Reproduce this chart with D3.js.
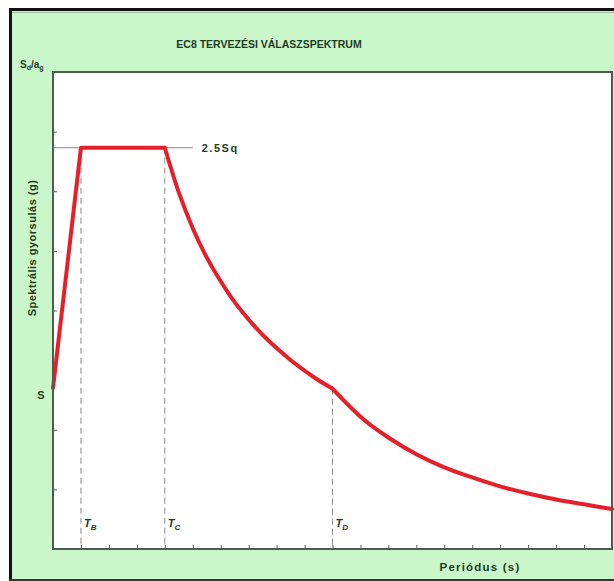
<!DOCTYPE html>
<html><head><meta charset="utf-8">
<script src="https://cdn.jsdelivr.net/npm/d3@7"></script>
<style>
html,body{margin:0;padding:0;background:#fff;}
svg{display:block;}
text{font-family:"Liberation Sans",Arial,sans-serif;font-weight:bold;fill:#1f3b1f;}
</style></head>
<body>
<svg id="chart" width="614" height="581"></svg>
<script>
// Data (x: period in tick units, y: Sd/ag in tick units)
const periods = [0, 1, 4, 4.5, 5, 5.5, 6, 6.5, 7, 7.5, 8, 8.5, 9, 9.5, 10, 11, 12, 13, 14, 15, 16, 17, 18, 19, 20];
const spectrum = [2.7, 6.73, 6.73, 5.98, 5.38, 4.89, 4.49, 4.14, 3.85, 3.59, 3.37, 3.17, 2.99, 2.83, 2.69, 2.22, 1.87, 1.59, 1.37, 1.2, 1.05, 0.93, 0.83, 0.75, 0.67];
const cornerNames = ["B", "C", "D"];
const cornerPeriods = [1, 4, 10];
const xTicks = d3.range(0, 21, 1);
const yTicks = d3.range(0, 9, 1);
const plateauLabel = "2.5Sq";
const sLabel = "S";
const plateauGuideEnd = 5;

const svg = d3.select("#chart");
const L = 53, R = 612, T = 72, B = 549;

// backgrounds
svg.append("rect").attr("x", 10).attr("y", 9).attr("width", 610).attr("height", 571)
  .attr("fill", "#c9f7c9");
svg.append("line").attr("x1", 9).attr("x2", 614).attr("y1", 9.5).attr("y2", 9.5)
  .attr("stroke", "#111").attr("stroke-width", 3);
svg.append("line").attr("x1", 10.5).attr("x2", 10.5).attr("y1", 8).attr("y2", 581)
  .attr("stroke", "#111").attr("stroke-width", 3);
svg.append("line").attr("x1", 9).attr("x2", 614).attr("y1", 580).attr("y2", 580)
  .attr("stroke", "#333").attr("stroke-width", 2);
svg.append("line").attr("x1", 12).attr("x2", 614).attr("y1", 12.5).attr("y2", 12.5)
  .attr("stroke", "#9fbf9f").attr("stroke-width", 1);

svg.append("rect").attr("x", L).attr("y", T).attr("width", R - L).attr("height", B - T)
  .attr("fill", "#fff");

const x = d3.scaleLinear().domain([0, 20]).range([L, R]);
const y = d3.scaleLinear().domain([0, 8]).range([B, T]);

// axes with inward ticks
const xAxis = d3.axisBottom(x).tickValues(xTicks).tickSizeInner(-4).tickSizeOuter(0).tickFormat("");
const yAxis = d3.axisLeft(y).tickValues(yTicks).tickSizeInner(-4).tickSizeOuter(0).tickFormat("");
const gx = svg.append("g").attr("transform", `translate(0,${B})`).call(xAxis);
const gy = svg.append("g").attr("transform", `translate(${L},0)`).call(yAxis);
[gx, gy].forEach(g => {
  g.selectAll("line").attr("stroke", "#556655");
  g.select(".domain").remove();
});

// guides
const plateau = spectrum[1];
svg.append("line").attr("x1", x(0)).attr("x2", x(plateauGuideEnd))
  .attr("y1", y(plateau)).attr("y2", y(plateau))
  .attr("stroke", "#8a8a8a").attr("stroke-width", 1);
cornerPeriods.forEach((p, i) => {
  const idx = periods.indexOf(p);
  svg.append("line").attr("x1", x(p)).attr("x2", x(p))
    .attr("y1", y(spectrum[idx])).attr("y2", B)
    .attr("stroke", "#8a8a8a").attr("stroke-width", 1).attr("stroke-dasharray", "6,4");
  const t = svg.append("text").attr("x", x(p) + 3).attr("y", B - 22)
    .attr("font-size", 11).attr("font-style", "italic").attr("font-weight", "normal")
    .attr("fill", "#222");
  t.append("tspan").text("T");
  t.append("tspan").attr("dy", 3).attr("font-size", 8).text(cornerNames[i]);
});

// spectrum line: linear rise + plateau, then two smooth descending branches
const pts = periods.map((p, i) => [p, spectrum[i]]);
const iC = periods.indexOf(cornerPeriods[1]);
const iD = periods.indexOf(cornerPeriods[2]);
const linePart = d3.line().x(d => x(d[0])).y(d => y(d[1]));
const curvePart = d3.line().x(d => x(d[0])).y(d => y(d[1])).curve(d3.curveMonotoneX);
const redStyle = p => p.attr("fill", "none").attr("stroke", "#e6202a").attr("stroke-width", 4)
  .attr("stroke-linejoin", "round").attr("stroke-linecap", "round");
svg.append("path").attr("d", linePart(pts.slice(0, iC + 1))).call(redStyle);
svg.append("path").attr("d", curvePart(pts.slice(iC, iD + 1))).call(redStyle);
svg.append("path").attr("d", curvePart(pts.slice(iD))).call(redStyle);

// plot border
svg.append("rect").attr("x", L).attr("y", T).attr("width", R - L).attr("height", B - T)
  .attr("fill", "none").attr("stroke", "#4d5e4d").attr("stroke-width", 2);

// texts
svg.append("text").attr("x", 269).attr("y", 48).attr("text-anchor", "middle")
  .attr("font-size", 10.5).text("EC8 TERVEZÉSI VÁLASZSPEKTRUM");
const yl = svg.append("text").attr("x", 20).attr("y", 68).attr("font-size", 10);
yl.append("tspan").text("S");
yl.append("tspan").attr("dy", 2).attr("font-size", 7).text("d");
yl.append("tspan").attr("dy", -2).text("/a");
yl.append("tspan").attr("dy", 2).attr("font-size", 7).text("g");
svg.append("text").attr("transform", "translate(36,248) rotate(-90)")
  .attr("text-anchor", "middle").attr("font-size", 11).attr("letter-spacing", 0.5)
  .text("Spektrális gyorsulás (g)");
svg.append("text").attr("x", 41).attr("y", y(spectrum[0]) + 11).attr("text-anchor", "middle")
  .attr("font-size", 11).text(sLabel);
svg.append("text").attr("x", x(plateauGuideEnd) + 9).attr("y", y(plateau) + 4)
  .attr("font-size", 11).attr("letter-spacing", 1.5).attr("fill", "#222").text(plateauLabel);
svg.append("text").attr("x", 480).attr("y", 571).attr("text-anchor", "middle")
  .attr("font-size", 11.5).attr("letter-spacing", 1.2).text("Periódus (s)");
</script>
</body></html>
